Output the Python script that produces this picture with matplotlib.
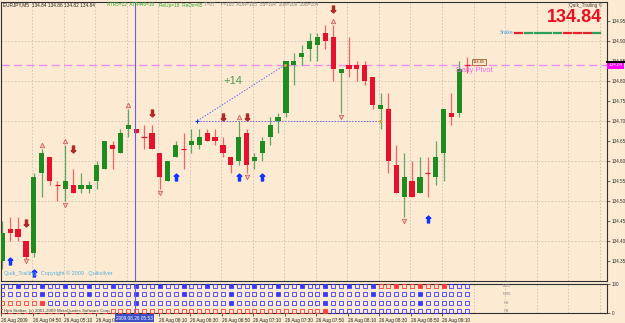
import matplotlib
matplotlib.use('Agg')
import matplotlib.pyplot as plt
import matplotlib.transforms as mtransforms

plt.rcParams['font.family'] = ['Liberation Sans', 'DejaVu Sans']

W, H = 625, 323

# M5 candles, EURJPY 26 Aug 2009 04:30 .. 09:25
opens = [134.35, 134.43, 134.43, 134.40, 134.37, 134.57, 134.61, 134.54, 134.53, 134.54,
         134.53, 134.53, 134.55, 134.58, 134.64, 134.62, 134.68, 134.68, 134.66, 134.67,
         134.62, 134.55, 134.61, 134.63, 134.64, 134.64, 134.67, 134.66, 134.64, 134.61,
         134.60, 134.67, 134.60, 134.62, 134.66, 134.70, 134.72, 134.84, 134.86, 134.88,
         134.89, 134.92, 134.91, 134.82, 134.84, 134.84, 134.84, 134.81, 134.73, 134.73,
         134.59, 134.51, 134.55, 134.52, 134.57, 134.56, 134.62, 134.72, 134.72, 134.84]
highs = [134.45, 134.46, 134.46, 134.40, 134.57, 134.63, 134.61, 134.55, 134.64, 134.58,
         134.57, 134.55, 134.60, 134.65, 134.65, 134.68, 134.73, 134.68, 134.69, 134.69,
         134.62, 134.60, 134.65, 134.67, 134.68, 134.68, 134.68, 134.68, 134.66, 134.61,
         134.70, 134.68, 134.62, 134.66, 134.71, 134.72, 134.85, 134.87, 134.89, 134.92,
         134.92, 134.94, 134.94, 134.83, 134.91, 134.85, 134.85, 134.81, 134.77, 134.77,
         134.64, 134.62, 134.60, 134.61, 134.61, 134.65, 134.73, 134.77, 134.85, 134.86]
lows = [134.33, 134.40, 134.40, 134.35, 134.36, 134.51, 134.54, 134.50, 134.50, 134.52,
        134.52, 134.52, 134.53, 134.58, 134.58, 134.62, 134.66, 134.67, 134.63, 134.63,
        134.53, 134.55, 134.61, 134.58, 134.62, 134.63, 134.65, 134.64, 134.61, 134.57,
        134.59, 134.57, 134.58, 134.60, 134.64, 134.67, 134.71, 134.79, 134.84, 134.85,
        134.85, 134.88, 134.80, 134.72, 134.81, 134.80, 134.79, 134.73, 134.68, 134.57,
        134.52, 134.46, 134.51, 134.52, 134.51, 134.54, 134.55, 134.69, 134.71, 134.82]
closes = [134.42, 134.42, 134.41, 134.36, 134.56, 134.62, 134.55, 134.54, 134.55, 134.52,
          134.54, 134.54, 134.59, 134.65, 134.63, 134.67, 134.69, 134.67, 134.66, 134.63,
          134.56, 134.60, 134.64, 134.63, 134.65, 134.66, 134.65, 134.65, 134.62, 134.59,
          134.66, 134.59, 134.61, 134.65, 134.69, 134.71, 134.85, 134.85, 134.87, 134.90,
          134.91, 134.90, 134.83, 134.83, 134.83, 134.83, 134.80, 134.74, 134.74, 134.60,
          134.52, 134.56, 134.51, 134.56, 134.57, 134.61, 134.73, 134.71, 134.83, 134.84]

# signal markers (bar index, price)
up_arrow_bars = [1, 4, 22, 30, 33, 54]
up_arrow_prices = [134.35, 134.32, 134.56, 134.56, 134.56, 134.455]
down_arrow_bars = [3, 9, 19, 28, 31, 42]
down_arrow_prices = [134.445, 134.63, 134.72, 134.71, 134.71, 134.98]
fractal_up_bars = [5, 8, 16, 30, 42]
fractal_up_prices = [134.64, 134.65, 134.74, 134.71, 134.95]
fractal_dn_bars = [3, 8, 20, 31, 43, 51]
fractal_dn_prices = [134.35, 134.49, 134.52, 134.56, 134.71, 134.45]

daily_pivot = 134.84
trend_start = (24.75, 134.70)
trend_end = (35.9, 134.84)
trend_flat_end = 47.9

# bar 16 label sits under the crosshair time box, so it is left out
time_tick_bars = [0, 4, 8, 12, 20, 24, 28, 32, 36, 40, 44, 48, 52, 56]
time_tick_labels = ['26 Aug 2009', '26 Aug 04:50', '26 Aug 05:10', '26 Aug 0',
                    '26 Aug 06:10', '26 Aug 06:30', '26 Aug 06:50', '26 Aug 07:10', '26 Aug 07:30',
                    '26 Aug 07:50', '26 Aug 08:10', '26 Aug 08:30', '26 Aug 08:50', '26 Aug 09:10']
price_ticks = [134.35, 134.40, 134.45, 134.50, 134.55, 134.60, 134.65, 134.70,
               134.75, 134.80, 134.85, 134.90, 134.95]

# bar-close state per timeframe: o/B blue hollow/filled, r/R red hollow/filled
tf_names = ['M15', 'M30', 'H1', 'H4']
tf_rows = [
    'ooBooBooBooB' 'ooBooBooBooB' 'ooBooBooBooB' 'ooBooBooBooB' 'rrRrrRrrRooo',
    'oooooBoooooB' 'oooooBoooooB' 'oooooBoooooB' 'oooooBoooooB' 'oooooBoooooo',
    'rrrrrRoooooo' 'oooooBoooooo' 'oooooBoooooo' 'oooooBoooooo' 'oooooBoooooo',
    'rrrrrrrrrrrr' 'rrrrrrrrrrrr' 'rrrrrrrrrrrr' 'rrrrrRoooooo' 'oooooooooooo',
]
tf_row_y = [93, 64.5, 35.5, 8]

snake_colors = ['#e8202a', '#2e9e5a', '#2e9e5a', '#2e9e5a', '#2e9e5a',
                '#e8202a', '#e8202a', '#e8202a', '#2e9e5a']

BG = '#fcebd2'
GREEN = '#1f8c22'
RED = '#e8112d'
GRID = '#c9c2b6'


def fx(x):
    return x / W


def fy(y):
    return 1 - y / H


fig = plt.figure(figsize=(W / 100, H / 100), dpi=100)
fig.patch.set_facecolor(BG)

ax = fig.add_axes([fx(1), fy(281), fx(606), 279 / H])
ax_ind = fig.add_axes([fx(1), fy(313), fx(606), 29 / H], sharex=ax)
for a in (ax, ax_ind):
    a.set_facecolor(BG)
    for s in a.spines.values():
        s.set_color('#303030')
        s.set_linewidth(0.8)

ax.set_xlim(-0.165, 76.74)
ax.set_ylim(134.3001, 134.9967)
ax_ind.set_ylim(0, 100)

# grid
for b in range(4, 77, 4):
    for a in (ax, ax_ind):
        a.axvline(b - 0.2, color=GRID, lw=0.6, ls=(0, (2, 2)), zorder=0)
for p in price_ticks[1::2]:
    ax.axhline(p, color=GRID, lw=0.6, ls=(0, (2, 2)), zorder=0)

# candles
for i in range(len(opens)):
    o, h, l, c = opens[i], highs[i], lows[i], closes[i]
    up = c > o
    body_col = GREEN if up else RED
    wick_col = '#62a862' if up else '#ef6464'
    ax.vlines(i, l, h, color=wick_col, lw=0.9, zorder=2)
    if c == o:
        ax.hlines(c, i - 0.34, i + 0.34, color=RED, lw=0.9, zorder=3)
    else:
        ax.bar(i, c - o, bottom=o, width=0.66, color=body_col, lw=0, zorder=3)

# pivot line
ax.axhline(daily_pivot, color='#f08ef0', lw=1.0, ls=(0, (6, 3)), zorder=1)
ax.text(57.6, daily_pivot - 0.005, 'Daily Pivot', color='#ee6cee', fontsize=5.6,
        ha='left', va='top', zorder=5)

# trend measure
ax.plot([trend_start[0], trend_end[0]], [trend_start[1], trend_end[1]],
        color='#6a6ae8', lw=0.7, ls=(0, (1.5, 1.5)), zorder=4)
ax.plot([trend_start[0], trend_flat_end], [trend_start[1], trend_start[1]],
        color='#6a6ae8', lw=0.7, ls=(0, (1.5, 1.5)), zorder=4)
ax.plot(trend_start[0], trend_start[1], marker='+', ms=3, color='#2030e0', mew=0.8, zorder=5)
ax.plot([trend_end[0], trend_flat_end], [trend_end[1], trend_start[1]], ls='none',
        marker='o', ms=1.2, color='#e0a030', zorder=5)
ax.text(29.3, 134.80, '+14', color='#4a9e4a', fontsize=8, ha='center', va='center', zorder=5)

# signal markers
ax.plot(up_arrow_bars, up_arrow_prices, ls='none', marker='$\u2B06$', ms=5,
        color='#1434ff', zorder=6)
ax.plot(down_arrow_bars, down_arrow_prices, ls='none', marker='$\u2B07$', ms=5,
        color='#b02a2a', zorder=6)
ax.plot(fractal_up_bars, fractal_up_prices, ls='none', marker='^', ms=3.2,
        mfc='#f6c8b8', mec='#d06060', mew=0.6, zorder=6)
ax.plot(fractal_dn_bars, fractal_dn_prices, ls='none', marker='v', ms=3.2,
        mfc='#f6c8b8', mec='#d06060', mew=0.6, zorder=6)

# last price box
ax.text(59.75, 134.848, '134.85', fontsize=2.8, color='#703010', ha='left', va='center',
        bbox=dict(boxstyle='square,pad=0.25', fc='#fbe6cc', ec='#a05a30', lw=0.6), zorder=6)

# right price axis
ax.yaxis.tick_right()
ax.set_yticks(price_ticks)
ax.set_yticklabels(['%.2f' % p for p in price_ticks])
ax.tick_params(axis='y', labelsize=3.3, length=2, pad=1.5, colors='#303030', width=0.5)
ax.tick_params(axis='x', bottom=False, labelbottom=False)
trans = mtransforms.blended_transform_factory(ax.transAxes, ax.transData)
ax.text(1.002, daily_pivot, '134.84', transform=trans, fontsize=3.3, color='white',
        ha='left', va='center', bbox=dict(boxstyle='square,pad=0.3', fc='#ff00ff', ec='none'),
        zorder=7, clip_on=False)
fig.add_artist(plt.Line2D([fx(607), fx(625)], [fy(62), fy(62)], color='black', lw=1.4))

# crosshair
for a in (ax, ax_ind):
    a.axvline(16.84, color='#6464d8', lw=0.8, zorder=8)

# timeframe state panel
for r, row in enumerate(tf_rows):
    for i, ch in enumerate(row):
        col = '#3a3aff' if ch in 'oB' else '#ff3a3a'
        face = col if ch in 'BR' else 'none'
        ax_ind.plot(i, tf_row_y[r], ls='none', marker='s', ms=3.0, mec=col, mfc=face,
                    mew=0.6, zorder=3)
    ax_ind.text(64.0, tf_row_y[r], tf_names[r], fontsize=3.2, color='#909090',
                ha='center', va='center')
ax_ind.set_yticks([0, 100])
ax_ind.yaxis.tick_right()
ax_ind.set_yticklabels(['0', '100'])
ax_ind.tick_params(axis='y', labelsize=3.3, length=2, pad=1.5, colors='#303030', width=0.5)
ax_ind.set_xticks([b - 0.15 for b in time_tick_bars])
ax_ind.set_xticklabels(time_tick_labels, ha='left')
ax_ind.tick_params(axis='x', labelsize=3.4, length=2, pad=1.5, colors='#202020', width=0.5)
ax_ind.text(0.2, 8, 'Hpa Stalker, (c) 2001-2009 MetaQuotes Software Corp.', fontsize=3.2,
            color='#404040', ha='left', va='center', zorder=4,
            bbox=dict(boxstyle='square,pad=0.1', fc=BG, ec='none'))

# crosshair time label
fig.text(fx(116), fy(318), '2009.08.26 05:53', fontsize=3.4, color='white', ha='left', va='center',
         bbox=dict(boxstyle='square,pad=0.3', fc='#3c50c8', ec='none'), zorder=9)

# header texts
fig.text(fx(3), fy(5), 'EURJPY,M5  134.84 134.86 134.82 134.84', fontsize=3.4,
         color='#202020', va='center')
fig.text(fx(107), fy(5), 'ATR5=12  ATR440=10', fontsize=3.4, color='#30a830', va='center')
fig.text(fx(159), fy(5), 'ReUp=18  ReDn=65', fontsize=3.4, color='#30a830', va='center')
fig.text(fx(204), fy(5), 'T=07    Y=103  ADR=105  5d=104  10d=209  20d=104', fontsize=3.4,
         color='#8a8a8a', va='center')
fig.text(fx(602), fy(5), 'Quik_Trailing \u00a9', fontsize=3.4, color='#404040', ha='right',
         va='center')
fig.text(fx(602), fy(17), '134.84', fontsize=13, color='#e81020', fontweight='bold',
         ha='right', va='center')
fig.text(fx(500), fy(33), 'Snake', fontsize=3.4, color='#3c9ee0', va='center')
for k, c in enumerate(snake_colors):
    x0 = 515 + k * 9.8
    fig.add_artist(plt.Line2D([fx(x0), fx(x0 + 7)], [fy(33), fy(33)], color=c, lw=1.6))
fig.text(fx(4), fy(273), 'Quik_Trailing   Copyright \u00a9 2009   Quiksilver', fontsize=4,
         color='#5aaee0', va='center')

fig.savefig('out.png', dpi=100, facecolor=BG)
